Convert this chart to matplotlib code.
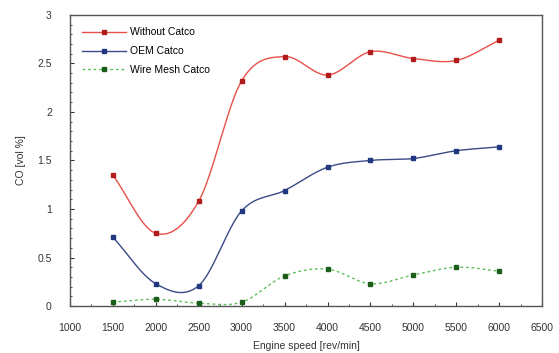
import matplotlib
matplotlib.use("Agg")
import matplotlib.pyplot as plt
import numpy as np
from matplotlib.ticker import MultipleLocator

plt.rcParams['font.family'] = ['Liberation Sans', 'DejaVu Sans']

# data
speed = [1500, 2000, 2500, 3000, 3500, 4000, 4500, 5000, 5500, 6000]
without_catco = [1.35, 0.75, 1.08, 2.32, 2.57, 2.38, 2.62, 2.55, 2.53, 2.74]
oem_catco = [0.71, 0.23, 0.21, 0.98, 1.19, 1.43, 1.50, 1.52, 1.60, 1.64]
wire_mesh_catco = [0.04, 0.07, 0.03, 0.04, 0.31, 0.38, 0.23, 0.32, 0.40, 0.36]


def smooth(x, y, n=40):
    # catmull-rom curve through the points
    x = np.asarray(x, float)
    y = np.asarray(y, float)
    k = len(x)
    m = np.zeros(k)
    m[1:-1] = (y[2:] - y[:-2]) / (x[2:] - x[:-2])
    m[0] = (y[1] - y[0]) / (x[1] - x[0])
    m[-1] = (y[-1] - y[-2]) / (x[-1] - x[-2])
    xs_all, ys_all = [], []
    for i in range(k - 1):
        h = x[i + 1] - x[i]
        t = np.linspace(0, 1, n)
        h00 = 2 * t**3 - 3 * t**2 + 1
        h10 = t**3 - 2 * t**2 + t
        h01 = -2 * t**3 + 3 * t**2
        h11 = t**3 - t**2
        xs_all.append(x[i] + t * h)
        ys_all.append(h00 * y[i] + h10 * h * m[i] + h01 * y[i + 1] + h11 * h * m[i + 1])
    return np.concatenate(xs_all), np.concatenate(ys_all)


fig = plt.figure(figsize=(5.59, 3.53), dpi=100)
ax = fig.add_axes([0.125, 0.133, 0.845, 0.825])

series = [
    ("Without Catco", without_catco, "#e8504a", "#b01c1c", "-"),
    ("OEM Catco", oem_catco, "#3a4a86", "#22387e", "-"),
    ("Wire Mesh Catco", wire_mesh_catco, "#5cc05c", "#1b5e1b", (0, (2, 2))),
]

for name, vals, lc, mc, ls in series:
    xs, ys = smooth(speed, vals)
    ax.plot(xs, ys, color=lc, linestyle=ls, linewidth=1.0, zorder=2)
    ax.plot(speed, vals, linestyle="none", marker="s", markersize=3.5,
            color=mc, zorder=3)
    ax.plot([], [], color=lc, linestyle=ls, linewidth=1.0, marker="s",
            markersize=3.5, markerfacecolor=mc, markeredgecolor=mc, label=name)

ax.set_xlim(1000, 6500)
ax.set_ylim(0, 3)
ax.set_xticks(np.arange(1000, 6501, 500))
ax.set_yticks([0, 0.5, 1, 1.5, 2, 2.5, 3])
ax.set_yticklabels(["0", "0.5", "1", "1.5", "2", "2.5", "3"])
ax.xaxis.set_minor_locator(MultipleLocator(250))
ax.yaxis.set_minor_locator(MultipleLocator(0.1))
ax.tick_params(which="both", direction="in", top=False, right=False,
               labelsize=7.5, colors="#333333")
ax.tick_params(which="major", length=3)
ax.tick_params(axis="x", which="major", pad=12)
ax.tick_params(axis="y", which="major", pad=13)
ax.tick_params(which="minor", length=1.5)
for s in ax.spines.values():
    s.set_color("#555555")
    s.set_linewidth(1.0)

ax.set_xlabel("Engine speed [rev/min]", fontsize=7.5, color="#333333", labelpad=6)
ax.set_ylabel("CO [vol %]", fontsize=7.5, color="#333333", labelpad=8)

ax.legend(loc="upper left", fontsize=7.5, frameon=False, handlelength=4.2,
          handletextpad=0.4, labelspacing=0.85, borderaxespad=0.9,
          borderpad=0.3)

fig.savefig("out.png", dpi=100)
